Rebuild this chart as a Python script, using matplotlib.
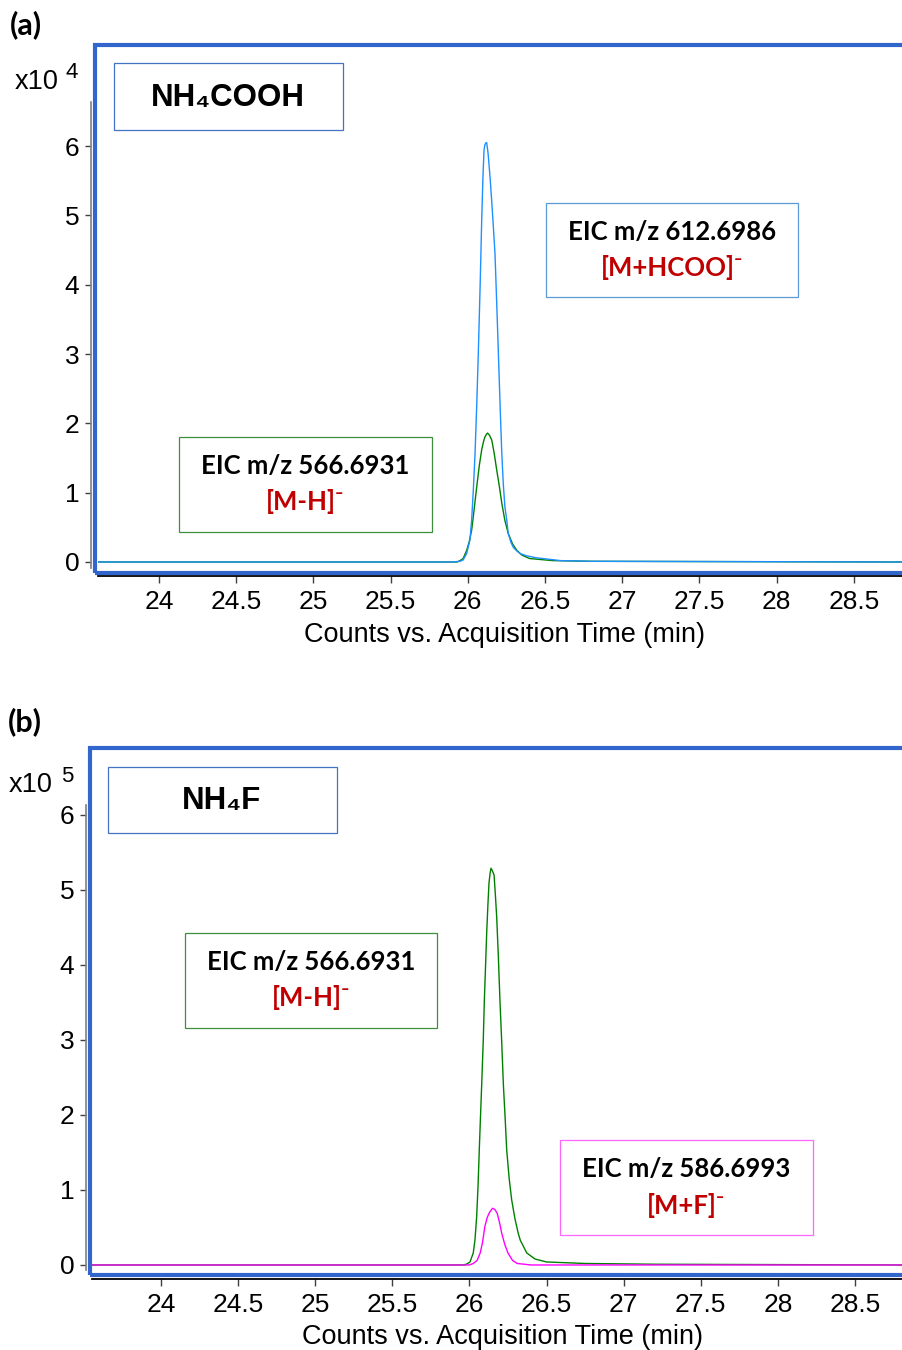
import matplotlib
matplotlib.use('Agg')
import matplotlib.pyplot as plt
from matplotlib.patches import Rectangle

# 数据 (a) NH4COOH, 时间(min) / 强度(x10^4)
t_a_hcoo = [23.60, 25.90, 25.95, 25.97, 25.993, 26.014, 26.025, 26.036, 26.047, 26.058, 26.068,
            26.08, 26.09, 26.098, 26.105, 26.11, 26.115, 26.122, 26.13, 26.135, 26.145, 26.155,
            26.165, 26.176, 26.187, 26.198, 26.21, 26.22, 26.23, 26.24, 26.252, 26.262, 26.28,
            26.295, 26.317, 26.34, 26.38, 26.446, 26.60, 26.80, 28.81]
i_a_hcoo = [0.0, 0.0, 0.01, 0.03, 0.125, 0.32, 0.61, 1.05, 1.57, 2.28, 3.01,
            4.00, 4.93, 5.55, 5.94, 6.01, 6.04, 6.05, 5.92, 5.80, 5.52, 5.20,
            4.85, 4.45, 3.75, 3.01, 2.20, 1.57, 1.12, 0.80, 0.61, 0.41, 0.28,
            0.21, 0.16, 0.12, 0.09, 0.06, 0.02, 0.01, 0.0]
t_a_mh = [23.60, 25.93, 25.95, 25.97, 25.993, 26.01, 26.025, 26.04, 26.058, 26.075, 26.09,
          26.10, 26.11, 26.12, 26.128, 26.14, 26.155, 26.17, 26.187, 26.205, 26.22, 26.24,
          26.262, 26.29, 26.317, 26.35, 26.40, 26.55, 26.80, 28.81]
i_a_mh = [0.0, 0.0, 0.02, 0.05, 0.17, 0.30, 0.46, 0.74, 1.09, 1.40, 1.62,
          1.72, 1.80, 1.84, 1.86, 1.83, 1.76, 1.58, 1.33, 1.08, 0.85, 0.60,
          0.41, 0.26, 0.17, 0.10, 0.05, 0.02, 0.01, 0.0]

# 数据 (b) NH4F, 时间(min) / 强度(x10^5)
t_b_mh = [23.55, 25.96, 25.98, 26.004, 26.025, 26.036, 26.047, 26.056, 26.064, 26.072, 26.08,
          26.09, 26.097, 26.105, 26.112, 26.12, 26.127, 26.134, 26.14, 26.15, 26.16, 26.168,
          26.177, 26.188, 26.198, 26.21, 26.22, 26.232, 26.242, 26.258, 26.274, 26.295, 26.317,
          26.33, 26.372, 26.425, 26.50, 26.75, 27.20, 28.81]
i_b_mh = [0.0, 0.0, 0.01, 0.04, 0.16, 0.33, 0.64, 1.05, 1.53, 1.98, 2.42,
          3.00, 3.53, 4.00, 4.42, 4.80, 5.09, 5.22, 5.29, 5.25, 5.20, 4.95,
          4.64, 4.10, 3.53, 2.95, 2.42, 1.95, 1.53, 1.15, 0.87, 0.62, 0.42,
          0.33, 0.16, 0.08, 0.04, 0.02, 0.01, 0.0]
t_b_mf = [23.55, 26.00, 26.025, 26.05, 26.07, 26.085, 26.10, 26.115, 26.13, 26.15, 26.165,
          26.18, 26.195, 26.21, 26.23, 26.25, 26.28, 26.31, 26.40, 28.81]
i_b_mf = [0.0, 0.0, 0.02, 0.06, 0.16, 0.30, 0.51, 0.63, 0.70, 0.756, 0.74,
          0.69, 0.57, 0.42, 0.27, 0.16, 0.06, 0.02, 0.0, 0.0]

xticks = [24, 24.5, 25, 25.5, 26, 26.5, 27, 27.5, 28, 28.5]
xtick_labels = ['24', '24.5', '25', '25.5', '26', '26.5', '27', '27.5', '28', '28.5']
yticks = [0, 1, 2, 3, 4, 5, 6]

W, H = 902, 1350
fig = plt.figure(figsize=(W / 100, H / 100), dpi=100)

ARIAL = ['Liberation Sans', 'DejaVu Sans']
CALI = ['Lato', 'DejaVu Sans']
FRAME = '#3366cc'
RED = '#c00000'


def fx(x):
    return x / W


def fy(y):
    return 1 - y / H


def box(x0, y0, x1, y1, color, lw=1.0):
    fig.add_artist(Rectangle((fx(x0), fy(y1)), fx(x1) - fx(x0), fy(y0) - fy(y1),
                             transform=fig.transFigure, fill=False, edgecolor=color,
                             linewidth=lw, zorder=10, clip_on=False))


def make_axes(left, right, bottom, top, xlim, ylim, spine_bottom, outward):
    ax = fig.add_axes([fx(left), fy(bottom), fx(right) - fx(left), fy(top) - fy(bottom)])
    ax.set_xlim(*xlim)
    ax.set_ylim(*ylim)
    ax.spines['top'].set_visible(False)
    ax.spines['right'].set_visible(False)
    ax.spines['left'].set_color('#7f7f7f')
    ax.spines['left'].set_linewidth(1.2)
    ax.spines['left'].set_position(('outward', outward * 0.72))
    ax.spines['left'].set_bounds(spine_bottom, ylim[1])
    ax.spines['bottom'].set_color('black')
    ax.spines['bottom'].set_linewidth(1.3)
    ax.set_xticks(xticks)
    ax.set_xticklabels(xtick_labels)
    ax.set_yticks(yticks)
    ax.tick_params(axis='x', direction='out', length=5, width=1, color='#404040', pad=5,
                   labelsize=19)
    ax.tick_params(axis='y', direction='out', length=4.5, width=1, color='#404040', pad=4,
                   labelsize=19)
    for lab in ax.get_xticklabels() + ax.get_yticklabels():
        lab.set_family(ARIAL)
    ax.set_xlabel('Counts vs. Acquisition Time (min)', fontsize=19.5, family=ARIAL)
    ax.patch.set_alpha(0)
    return ax


# (a)
ax1 = make_axes(98, 902, 576, 102, (23.605, 28.812), (-0.202, 6.635), -0.087, 7)
ax1.plot(t_a_mh, i_a_mh, color='#008000', linewidth=1.0)
ax1.plot(t_a_hcoo, i_a_hcoo, color='#1e90ff', linewidth=1.0)
ax1.xaxis.set_label_coords((505 - 98) / 804, -(635 - 576) / 474)
ax1.xaxis.label.set_va('center')

# (b)
ax2 = make_axes(92, 902, 1279, 805, (23.553, 28.805), (-0.187, 6.133), -0.067, 6)
ax2.plot(t_b_mh, i_b_mh, color='#008000', linewidth=1.0)
ax2.plot(t_b_mf, i_b_mf, color='#ff00ff', linewidth=1.0)
ax2.xaxis.set_label_coords((502 - 92) / 810, -(1337 - 1279) / 474)
ax2.xaxis.label.set_va('center')

# 蓝色外框
box(95, 45, 915, 573, FRAME, lw=3.0)
box(90, 748, 915, 1275, FRAME, lw=3.0)

# 面板标签
fig.text(fx(10), fy(25), '(a)', fontsize=22, fontweight='bold', family=CALI, va='center')
fig.text(fx(8), fy(722), '(b)', fontsize=22, fontweight='bold', family=CALI, va='center')

# 指数
fig.text(fx(15), fy(82), 'x10', fontsize=19.5, family=ARIAL, va='center')
fig.text(fx(66), fy(73), '4', fontsize=16, family=ARIAL, va='center')
fig.text(fx(9), fy(785), 'x10', fontsize=19.5, family=ARIAL, va='center')
fig.text(fx(61), fy(776), '5', fontsize=16, family=ARIAL, va='center')

# 标题框
box(114, 63, 343, 130, '#4472c4', lw=0.9)
fig.text(fx(228), fy(98), 'NH₄COOH', fontsize=22.5, fontweight='bold', family=ARIAL,
         ha='center', va='center')
box(108, 767, 337, 833, '#4472c4', lw=0.9)
fig.text(fx(222), fy(801), 'NH₄F', fontsize=22.5, fontweight='bold', family=ARIAL,
         ha='center', va='center')

# EIC 标注框
labels = [
    (546, 203, 798, 297, '#5b9bd5', 'EIC m/z 612.6986', '[M+HCOO]⁻'),
    (179, 437, 432, 532, '#3d8f3d', 'EIC m/z 566.6931', '[M-H]⁻'),
    (185, 933, 437, 1028, '#3d8f3d', 'EIC m/z 566.6931', '[M-H]⁻'),
    (560, 1140, 813, 1235, '#ff66ff', 'EIC m/z 586.6993', '[M+F]⁻'),
]
for x0, y0, x1, y1, c, line1, line2 in labels:
    box(x0, y0, x1, y1, c, lw=0.9)
    cx = (x0 + x1) / 2
    fig.text(fx(cx), fy(y0 + 29), line1, fontsize=18.5, fontweight='bold', family=CALI,
             ha='center', va='center', color='black')
    fig.text(fx(cx), fy(y0 + 65), line2, fontsize=18.5, fontweight='bold', family=CALI,
             ha='center', va='center', color=RED)

plt.savefig('out.png', dpi=100)
